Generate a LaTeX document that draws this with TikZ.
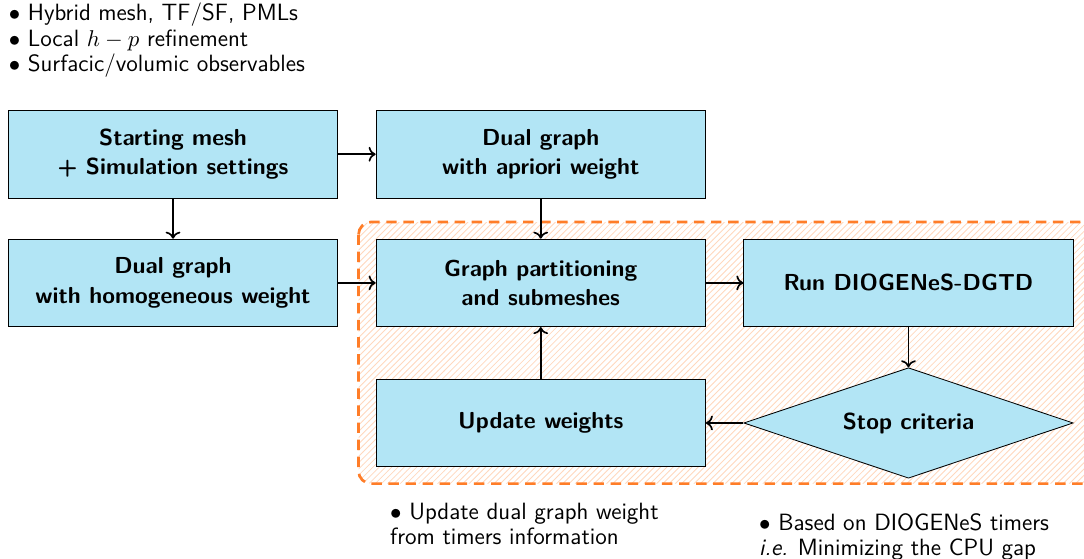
\documentclass[tikz,border=0pt]{standalone}
\usepackage{amsmath}
\usepackage{tikz}
\usetikzlibrary{arrows.meta, positioning, shapes.geometric, patterns}

\definecolor{boxblue}{RGB}{178,229,245}
\definecolor{zoneorange}{RGB}{255,125,40}

\begin{document}
\begin{tikzpicture}[
    font=\sffamily\fontsize{11.3}{12}\selectfont,
    node distance=19.3pt and 18pt,
    block/.style={draw, rectangle, align=center, minimum width=158pt, minimum height=42pt, fill=boxblue, font=\sffamily\bfseries\fontsize{11.1}{14}\selectfont},
    decision/.style={draw, diamond, aspect=3, align=center, minimum width=158pt, minimum height=53pt, inner sep=0pt, fill=boxblue, font=\sffamily\bfseries\fontsize{11.1}{14}\selectfont},
    note/.style={align=left, anchor=north west, inner sep=0pt},
    arrow/.style={->, thick}
]
\useasboundingbox (0,0) rectangle (520pt,-268pt);

% loop zone
\draw[zoneorange, line width=1.3pt, dash pattern=on 5pt off 3.2pt, rounded corners=6pt,
      pattern=north east lines, pattern color=zoneorange!30]
    (172pt,-106.5pt) rectangle (530pt,-232pt);

\node[note, font=\sffamily\fontsize{11.3}{12.3}\selectfont] (feat) at (4pt,-1.2pt) {$\bullet$ Hybrid mesh, TF/SF, PMLs\\ $\bullet$ Local $h-p$ refinement\\ $\bullet$ Surfacic/volumic observables};

\node[block] (mesh) at (83pt,-74pt) {Starting mesh\\ + Simulation settings};
\node[block] (apri) [right=of mesh] {Dual graph\\ with apriori weight};
\node[block] (homo) [below=of mesh] {Dual graph\\ with homogeneous weight};
\node[block] (part) [below=of apri] {Graph partitioning\\ and submeshes};
\node[block] (run) [right=of part] {Run DIOGENeS-DGTD};
\node[decision] (stop) [below=of run] {Stop criteria};
\node[block] (upd) [left=of stop] {Update weights};

\node[note] (updnote) at (187pt,-241pt) {$\bullet$ Update dual graph weight\\ from timers information};
\node[note] (stopnote) at (364pt,-246pt) {$\bullet$ Based on DIOGENeS timers\\ \textit{i.e.} Minimizing the CPU gap};

\draw[arrow] (mesh) -- (apri);
\draw[arrow] (mesh) -- (homo);
\draw[arrow] (apri) -- (part);
\draw[arrow] (homo) -- (part);
\draw[arrow] (part) -- (run);
\draw[arrow] (run) -- (stop);
\draw[arrow] (stop) -- (upd);
\draw[arrow] (upd) -- (part);

\end{tikzpicture}
\end{document}
